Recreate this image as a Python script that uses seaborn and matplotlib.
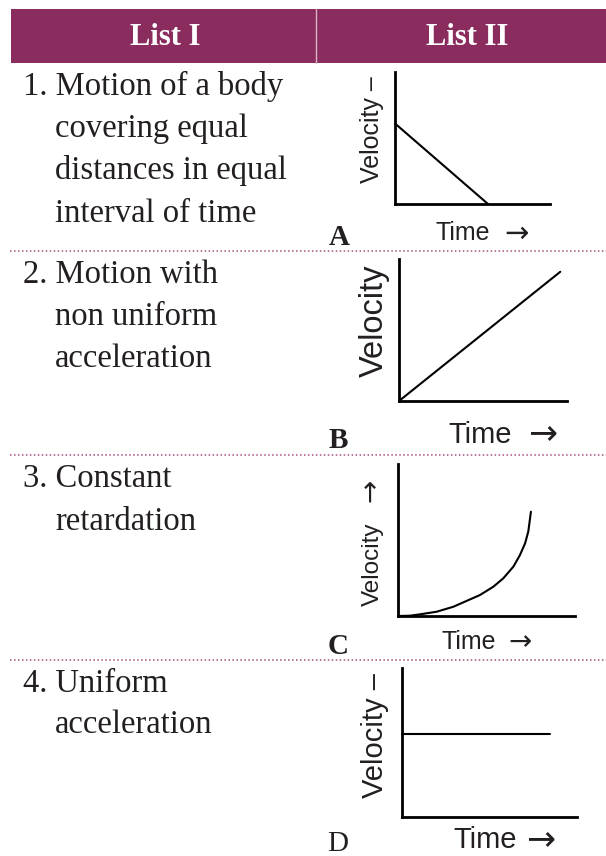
import numpy as np
import pandas as pd
import matplotlib
matplotlib.use("Agg")
import matplotlib.pyplot as plt
import seaborn as sns

sns.set_theme(style="white")
plt.rcParams['font.family'] = ['Liberation Sans', 'DejaVu Sans']

# ---------------- data ----------------
headers = ["List I", "List II"]
list1 = [
    ["1. Motion of a body", "covering equal", "distances in equal", "interval of time"],
    ["2. Motion with", "non uniform", "acceleration"],
    ["3. Constant", "retardation"],
    ["4. Uniform", "acceleration"],
]
graph_letters = ["A", "B", "C", "D"]
velocity_labels = ["Velocity –", "Velocity", "Velocity", "Velocity –"]
velocity_arrow = [None, None, "→", None]
time_word = "Time"
arrow = "→"

# velocity-time curves (normalised units)
time_A = [0.0, 0.60]
vel_A = [0.61, 0.0]
time_B = [0.0, 0.96]
vel_B = [0.0, 0.91]
time_C = [0.0, 0.068, 0.124, 0.218, 0.313, 0.463, 0.539, 0.595, 0.652, 0.689, 0.718, 0.736, 0.751]
vel_C = [0.0, 0.002, 0.011, 0.028, 0.061, 0.138, 0.193, 0.248, 0.325, 0.401, 0.478, 0.555, 0.686]
time_D = [0.0, 0.846]
vel_D = [0.557, 0.557]

curves = [(time_A, vel_A), (time_B, vel_B), (time_C, vel_C), (time_D, vel_D)]

# ---------------- layout (pixels) ----------------
W, H = 606, 856
fig = plt.figure(figsize=(W / 100, H / 100), dpi=100)
bg = fig.add_axes([0, 0, 1, 1])
bg.set_xlim(0, W)
bg.set_ylim(H, 0)
bg.axis("off")

purple = "#8B2C5E"
text_col = "#231F20"
serif = ["Liberation Serif", "DejaVu Serif"]
sans = ["Liberation Sans", "DejaVu Sans"]

# header band
bg.add_patch(plt.Rectangle((11, 9), W - 11, 54, color=purple, lw=0, zorder=1))
bg.plot([316, 316], [9, 63], color="#D9B3C6", lw=1, zorder=2)
bg.text(165, 37, headers[0], color="white", fontsize=22, fontweight="bold",
        family=serif, ha="center", va="center", zorder=3)
bg.text(467, 37, headers[1], color="white", fontsize=22, fontweight="bold",
        family=serif, ha="center", va="center", zorder=3)

# dotted separators
for y in [251, 455, 660]:
    bg.plot([10, W], [y, y], color="#A8507E", lw=1.1, linestyle=(0, (1, 1.6)))

# list I text
row_baselines = [[95, 137, 179, 222], [283, 325, 367], [487, 530], [692, 733]]
for lines, bls in zip(list1, row_baselines):
    for i, (t, b) in enumerate(zip(lines, bls)):
        x = 23 if i == 0 else 55
        bg.text(x, b, t, fontsize=23.5, family=serif, color=text_col,
                ha="left", va="baseline")

# graph boxes: left, right, top, bottom (pixels)
boxes = [(395, 550, 72, 204), (399, 567, 259, 401), (398, 575, 464, 616), (402, 577, 668, 817)]
vel_pos = [(372, 130, 18), (374, 321, 23.5), (373, 564, 17.5), (375, 735, 21)]
vel_arrow_pos = [None, None, (370, 490, 20), None]
# time word: left x, baseline, size ; arrow: centre x, centre y, size
time_pos = [(435, 240, 18), (448, 443, 21), (442, 649, 18), (453, 848, 21)]
time_arrow_pos = [(516, 233, 21), (543, 433, 25), (520, 642, 20), (541, 839, 25)]
letter_pos = [(339, 245, "bold"), (338, 448, "bold"), (338, 654, "bold"), (338, 851, "normal")]

AXIS_OFF = 0.30  # arrow glyph centre above baseline, in em

for k, ((l, r, t, b), (tx, vy)) in enumerate(zip(boxes, curves)):
    ax = fig.add_axes([l / W, 1 - b / H, (r - l) / W, (b - t) / H])
    df = pd.DataFrame({"time": tx, "velocity": vy})
    sns.lineplot(data=df, x="time", y="velocity", ax=ax, color="black",
                 linewidth=1.5, sort=False, estimator=None)
    for ln in ax.get_lines():
        ln.set_clip_on(False)
    ax.set_xlim(0, 1)
    ax.set_ylim(0, 1)
    ax.set_xticks([])
    ax.set_yticks([])
    ax.set_xlabel("")
    ax.set_ylabel("")
    ax.set_facecolor("none")
    for s in ["top", "right"]:
        ax.spines[s].set_visible(False)
    for s in ["left", "bottom"]:
        ax.spines[s].set_visible(True)
        ax.spines[s].set_color("black")
        ax.spines[s].set_linewidth(2.0)

    vx, vyc, vfs = vel_pos[k]
    bg.text(vx, vyc, velocity_labels[k], rotation=90, fontsize=vfs, color=text_col,
            ha="center", va="center", family=sans)
    if velocity_arrow[k]:
        ax_x, ax_y, afs = vel_arrow_pos[k]
        px = afs * 100 / 72
        bg.text(ax_x + AXIS_OFF * px, ax_y, velocity_arrow[k], rotation=90,
                rotation_mode="anchor", fontsize=afs, color=text_col,
                ha="center", va="baseline", family=["DejaVu Sans"])

    txx, tyb, tfs = time_pos[k]
    bg.text(txx, tyb, time_word, fontsize=tfs, color=text_col, ha="left",
            va="baseline", family=sans)
    arx, ary, afs = time_arrow_pos[k]
    px = afs * 100 / 72
    bg.text(arx, ary + AXIS_OFF * px, arrow, fontsize=afs, color=text_col,
            ha="center", va="baseline", family=["DejaVu Sans"])

    lx, ly, lw_ = letter_pos[k]
    bg.text(lx, ly, graph_letters[k], fontsize=21, fontweight=lw_, family=serif,
            color=text_col, ha="center", va="baseline")

fig.savefig("out.png", dpi=100, facecolor="white")
